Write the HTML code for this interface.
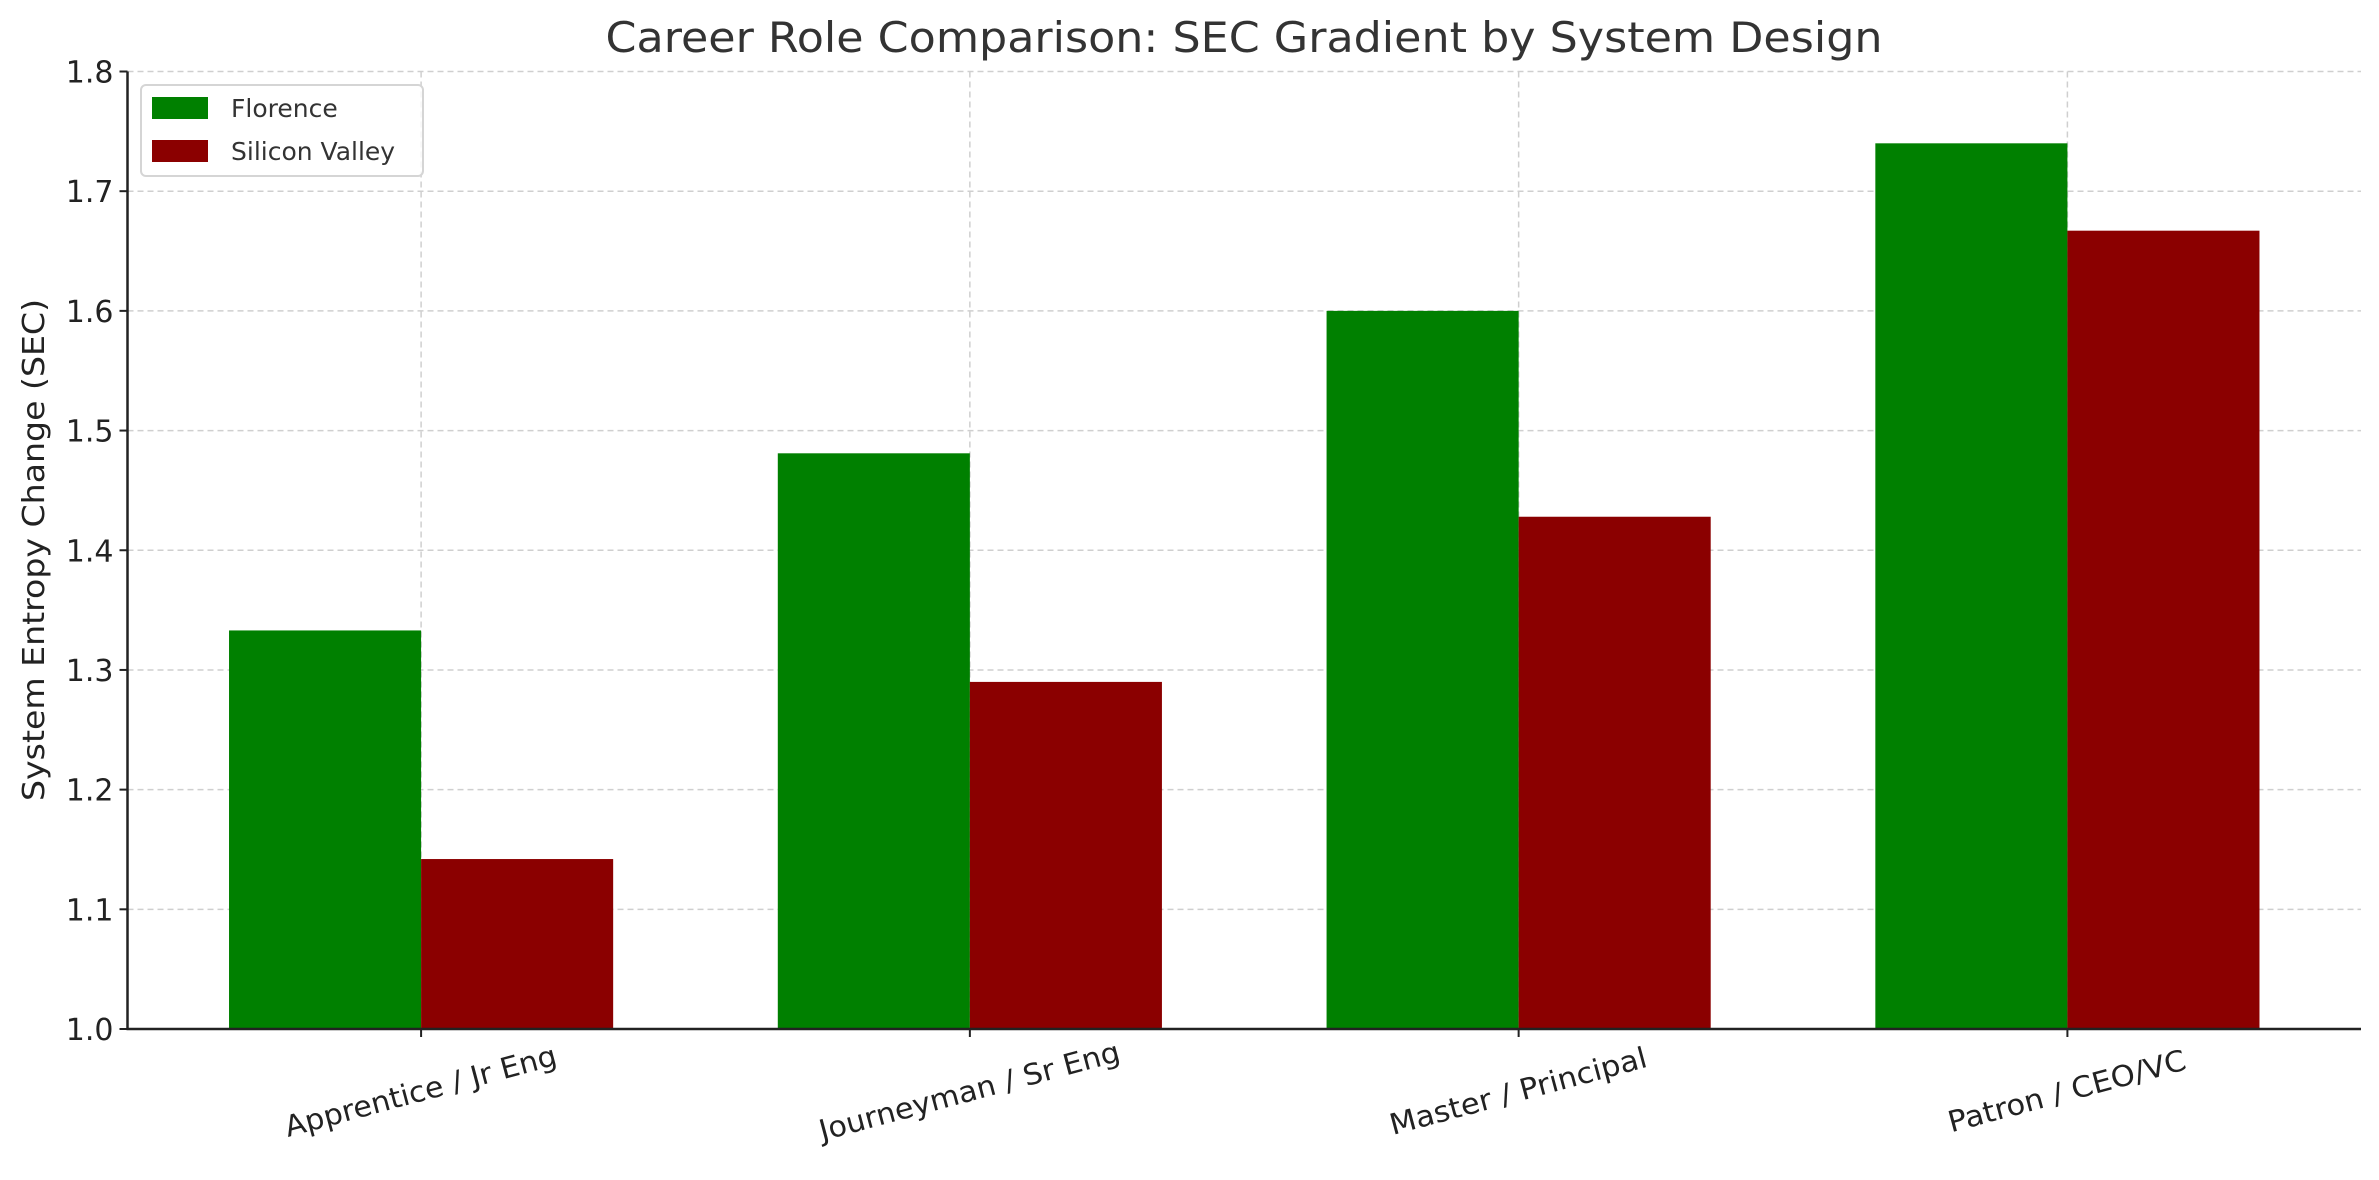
<!DOCTYPE html>
<html><head><meta charset="utf-8"><style>html,body{margin:0;padding:0;background:#fff}svg{display:block}</style></head>
<body>
<svg id="chart" width="2379" height="1180" xmlns="http://www.w3.org/2000/svg" font-family="'DejaVu Sans','Liberation Sans',sans-serif">
<rect width="2379" height="1180" fill="#fff"/>
<text x="1244" y="52" text-anchor="middle" font-size="42" fill="#333" textLength="1277" lengthAdjust="spacingAndGlyphs">Career Role Comparison: SEC Gradient by System Design</text>
<g id="grid"></g><g id="bars"></g><g id="axes"></g>
<text transform="translate(44,550) rotate(-90)" text-anchor="middle" font-size="30" fill="#222" textLength="502" lengthAdjust="spacingAndGlyphs">System Entropy Change (SEC)</text>
<g>
<rect x="141" y="85" width="282" height="91" rx="5" fill="#fff" fill-opacity="0.8" stroke="#d5d5d5" stroke-width="2"/>
<rect x="152" y="97" width="56" height="22" fill="#008000"/>
<text x="231" y="117" font-size="25" fill="#333">Florence</text>
<rect x="152" y="140" width="56" height="22" fill="#8b0000"/>
<text x="231" y="160" font-size="25" fill="#333">Silicon Valley</text>
</g>
</svg>
<script>
const categories = ["Apprentice / Jr Eng","Journeyman / Sr Eng","Master / Principal","Patron / CEO/VC"];
const florence = [1.333, 1.481, 1.600, 1.740];
const siliconValley = [1.142, 1.290, 1.428, 1.667];
const yTicks = [1.0, 1.1, 1.2, 1.3, 1.4, 1.5, 1.6, 1.7, 1.8];
const labelLengths = [280, 310, 265, 245];

const NS = "http://www.w3.org/2000/svg";
const L = 127.5, R = 2361, T = 71.5, B = 1029;
const xMin = -0.535, xMax = 3.535, yMin = 1.0, yMax = 1.8, barW = 0.35;
const xs = v => L + (v - xMin) / (xMax - xMin) * (R - L);
const ys = v => B - (v - yMin) / (yMax - yMin) * (B - T);
function mk(tag, attrs, parent) {
  const e = document.createElementNS(NS, tag);
  for (const k in attrs) e.setAttribute(k, attrs[k]);
  parent.appendChild(e); return e;
}
const grid = document.getElementById('grid'), bars = document.getElementById('bars'), axes = document.getElementById('axes');
yTicks.forEach((t) => {
  const g = mk('line', {x1: L, x2: R, y1: ys(t), y2: ys(t), stroke: '#cfcfcf', 'stroke-width': 1.5, 'stroke-dasharray': '6,4'}, grid);
  
  
  const tk = mk('line', {x1: L - 8, x2: L, y1: ys(t), y2: ys(t), stroke: '#222', 'stroke-width': 2}, axes);
  
  
  const lb = mk('text', {x: L - 14, y: ys(t) + 11, 'text-anchor': 'end', 'font-size': 30, fill: '#222'}, axes);
  
  
  lb.textContent = t.toFixed(1);
});
categories.forEach((c, i) => {
  const g = mk('line', {x1: xs(i), x2: xs(i), y1: T, y2: B, stroke: '#cfcfcf', 'stroke-width': 1.5, 'stroke-dasharray': '6,4'}, grid);
  
  
  const b1 = mk('rect', {x: xs(i - barW), y: ys(florence[i]), width: xs(i) - xs(i - barW), height: B - ys(florence[i]), fill: '#008000'}, bars);
  
  
  const b2 = mk('rect', {x: xs(i), y: ys(siliconValley[i]), width: xs(i + barW) - xs(i), height: B - ys(siliconValley[i]), fill: '#8b0000'}, bars);
  
  
  const tk = mk('line', {x1: xs(i), x2: xs(i), y1: B, y2: B + 8, stroke: '#222', 'stroke-width': 2}, axes);
  
  
  const lb = mk('text', {transform: `translate(${xs(i)},${1093}) rotate(-15)`, 'text-anchor': 'middle', 'dominant-baseline': 'middle', 'font-size': 29, fill: '#222', textLength: labelLengths[i], lengthAdjust: 'spacingAndGlyphs'}, axes);
  
  
  lb.textContent = c;
});
const ya = mk('line', {x1: L, x2: L, y1: T, y2: B + 1, stroke: '#222', 'stroke-width': 2.5}, axes);


const xa = mk('line', {x1: L - 1, x2: R, y1: B, y2: B, stroke: '#222', 'stroke-width': 2.5}, axes);


</script>
</body></html>
